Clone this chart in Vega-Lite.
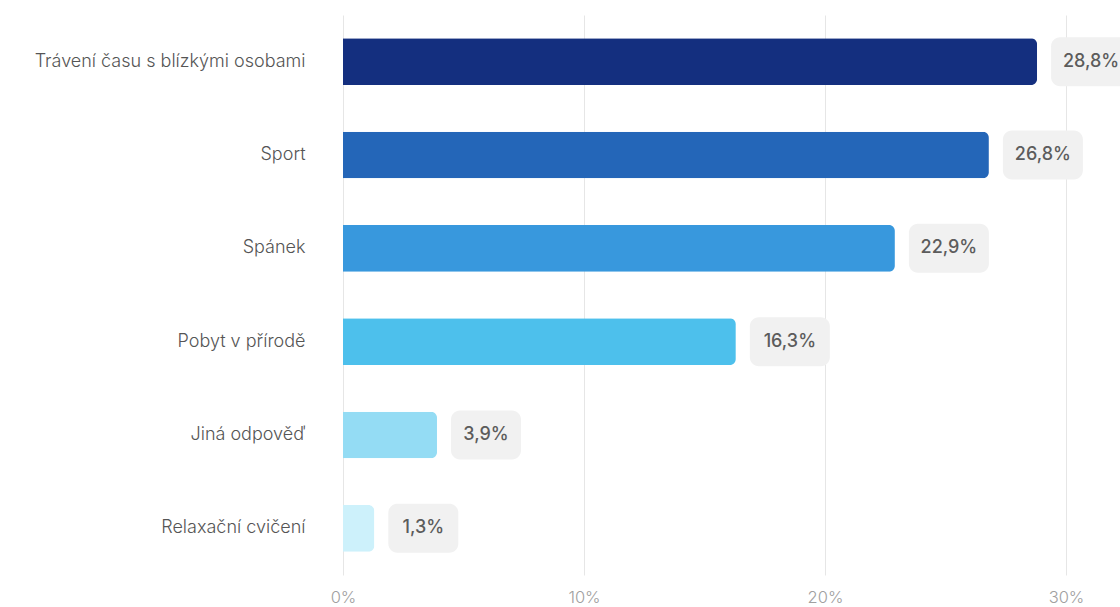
{
  "$schema": "https://vega.github.io/schema/vega-lite/v6.json",
  "width": 723,
  "height": 560,
  "autosize": {"type": "none"},
  "padding": {"left": 343, "top": 15, "right": 54, "bottom": 32},
  "background": "white",
  "config": {
    "view": {"stroke": null},
    "font": "Inter",
    "locale": {"number": {"decimal": ",", "thousands": " ", "grouping": [3], "currency": ["", " Kč"]}}
  },
  "data": {
    "values": [
      {"kategorie": "Trávení času s blízkými osobami", "podil": 0.288},
      {"kategorie": "Sport", "podil": 0.268},
      {"kategorie": "Spánek", "podil": 0.229},
      {"kategorie": "Pobyt v přírodě", "podil": 0.163},
      {"kategorie": "Jiná odpověď", "podil": 0.039},
      {"kategorie": "Relaxační cvičení", "podil": 0.013}
    ]
  },
  "encoding": {
    "y": {
      "field": "kategorie",
      "type": "nominal",
      "sort": null,
      "title": null,
      "scale": {"paddingInner": 0.5, "paddingOuter": 0.25},
      "axis": {"domain": false, "ticks": false, "grid": false, "labelPadding": 38, "labelFontSize": 18, "labelFontWeight": 300, "labelColor": "#555555", "labelFont": "Inter", "labelLimit": 400}
    }
  },
  "layer": [
    {
      "mark": {"type": "bar", "cornerRadiusEnd": 6, "height": {"band": 1}},
      "encoding": {
        "x": {
          "field": "podil",
          "type": "quantitative",
          "title": null,
          "scale": {"domain": [0, 0.3], "nice": false},
          "axis": {"format": ".0%", "values": [0, 0.1, 0.2, 0.3], "domain": false, "ticks": false, "labelFlush": false, "gridColor": "#e6e6e6", "labelColor": "#a0a0a0", "labelFontSize": 16.5, "labelFontWeight": 300, "labelPadding": 14, "labelFont": "Inter"}
        },
        "color": {
          "field": "kategorie",
          "type": "nominal",
          "sort": null,
          "legend": null,
          "scale": {
            "domain": ["Trávení času s blízkými osobami", "Sport", "Spánek", "Pobyt v přírodě", "Jiná odpověď", "Relaxační cvičení"],
            "range": ["#142f7f", "#2466b8", "#3898dd", "#4dc0ec", "#94dcf4", "#cdf1fb"]
          }
        }
      }
    },
    {
      "transform": [{"filter": "datum.podil >= 0.1"}],
      "mark": {"type": "rect", "color": "#f1f1f1", "cornerRadius": 9, "xOffset": 14, "x2Offset": 94, "height": {"band": 1.05}},
      "encoding": {
        "x": {"field": "podil", "type": "quantitative"},
        "x2": {"field": "podil"}
      }
    },
    {
      "transform": [{"filter": "datum.podil < 0.1"}],
      "mark": {"type": "rect", "color": "#f1f1f1", "cornerRadius": 9, "xOffset": 14, "x2Offset": 84, "height": {"band": 1.05}},
      "encoding": {
        "x": {"field": "podil", "type": "quantitative"},
        "x2": {"field": "podil"}
      }
    },
    {
      "transform": [{"filter": "datum.podil >= 0.1"}],
      "mark": {"type": "text", "dx": 54, "align": "center", "baseline": "middle", "fontSize": 18, "fontWeight": 500, "color": "#5c5c5c"},
      "encoding": {
        "x": {"field": "podil", "type": "quantitative"},
        "text": {"field": "podil", "type": "quantitative", "format": ".1%"}
      }
    },
    {
      "transform": [{"filter": "datum.podil < 0.1"}],
      "mark": {"type": "text", "dx": 49, "align": "center", "baseline": "middle", "fontSize": 18, "fontWeight": 500, "color": "#5c5c5c"},
      "encoding": {
        "x": {"field": "podil", "type": "quantitative"},
        "text": {"field": "podil", "type": "quantitative", "format": ".1%"}
      }
    }
  ]
}
